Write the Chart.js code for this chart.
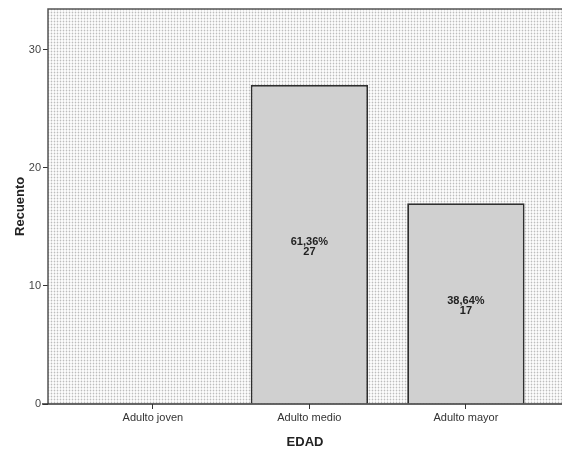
<!DOCTYPE html>
<html><head><meta charset="utf-8">
<script src="https://cdn.jsdelivr.net/npm/chart.js@4"></script>
<style>html,body{margin:0;padding:0;background:#fff;overflow:hidden}#w{width:562px;height:450px}</style>
</head><body><div id="w"><canvas id="c" width="562" height="450"></canvas></div>
<script>
const categories = ["Adulto joven", "Adulto medio", "Adulto mayor"];
const counts = [0, 27, 17];
const percentLabels = ["", "61,36%", "38,64%"];
const yTicks = [0, 10, 20, 30];

const tile = document.createElement('canvas');
tile.width = 3; tile.height = 3;
const tctx = tile.getContext('2d');
tctx.fillStyle = '#fbfbfb'; tctx.fillRect(0,0,3,3);
tctx.fillStyle = '#e6e6e6'; tctx.fillRect(0,0,1,3);
tctx.fillStyle = '#ececec'; tctx.fillRect(1,0,2,1);
tctx.fillStyle = '#bdbdbd'; tctx.fillRect(0,0,1,1);

const bgPlugin = {
  id: 'bg',
  beforeDatasetsDraw(chart) {
    const {ctx, chartArea: a} = chart;
    ctx.save();
    ctx.fillStyle = ctx.createPattern(tile, 'repeat');
    ctx.fillRect(a.left, a.top, a.right - a.left, a.bottom - a.top);
    ctx.strokeStyle = '#555';
    ctx.lineWidth = 1.5;
    ctx.beginPath();
    ctx.moveTo(a.left, a.bottom); ctx.lineTo(a.left, a.top + 0.5); ctx.lineTo(a.right + 2, a.top + 0.5);
    ctx.stroke();
    ctx.restore();
  },
  afterDatasetsDraw(chart) {
    const {ctx, chartArea: a} = chart;
    const meta = chart.getDatasetMeta(0);
    ctx.save();
    ctx.strokeStyle = '#333'; ctx.lineWidth = 1.5;
    ctx.beginPath(); ctx.moveTo(a.left - 6, a.bottom); ctx.lineTo(a.right + 2, a.bottom); ctx.stroke();
    ctx.font = 'bold 11px "Liberation Sans", Arial, sans-serif';
    ctx.fillStyle = '#222';
    ctx.textAlign = 'center'; ctx.textBaseline = 'middle';
    meta.data.forEach((bar, i) => {
      if (!counts[i]) return;
      const cy = (bar.y + bar.base) / 2;
      ctx.fillText(percentLabels[i], bar.x, cy - 2);
      ctx.fillText(String(counts[i]), bar.x, cy + 8);
    });
    ctx.restore();
  }
};

new Chart(document.getElementById('c'), {
  type: 'bar',
  data: {
    datasets: [{
      data: counts.map((v, i) => ({x: i + 1, y: v})),
      backgroundColor: '#d0d0d0',
      borderColor: '#2e2e2e',
      borderWidth: 1.8,
      categoryPercentage: 0.75,
      barPercentage: 1.0
    }]
  },
  options: {
    responsive: false,
    animation: false,
    events: [],
    layout: {padding: {top: 6, right: 0, left: 0, bottom: 0}},
    plugins: {legend: {display: false}, tooltip: {enabled: false}},
    scales: {
      x: {
        type: 'linear', min: 0.33, max: 3.614, offset: false,
        afterBuildTicks(s) { s.ticks = categories.map((_, i) => ({value: i + 1})); },
        afterFit(s) { s.height = 46; },
        grid: {display: true, drawOnChartArea: false, offset: false, drawTicks: true, tickLength: 5, color: '#333'},
        border: {display: false},
        ticks: {
          callback: (v) => categories[v - 1] || '',
          font: {family: '"Liberation Sans", Arial, sans-serif', size: 11},
          color: '#333', padding: 2, maxRotation: 0, autoSkip: false
        },
        title: {display: true, text: 'EDAD', font: {family: '"Liberation Sans", Arial, sans-serif', size: 13, weight: 'bold'}, color: '#222', padding: {top: 4, bottom: 0}}
      },
      y: {
        min: 0, max: 33.47,
        afterBuildTicks(s) { s.ticks = yTicks.map(v => ({value: v})); },
        afterFit(s) { s.width = 48; },
        grid: {display: true, drawOnChartArea: false, drawTicks: true, tickLength: 5, color: '#333'},
        border: {display: false},
        ticks: {font: {family: '"Liberation Sans", Arial, sans-serif', size: 11}, color: '#444', padding: 2},
        title: {display: true, text: 'Recuento', font: {family: '"Liberation Sans", Arial, sans-serif', size: 13, weight: 'bold'}, color: '#222', padding: {top: 13, bottom: 0}}
      }
    }
  },
  plugins: [bgPlugin]
});
</script></body></html>
